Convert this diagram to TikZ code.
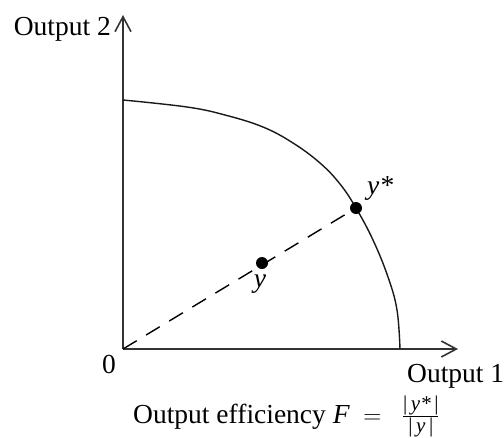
\documentclass[tikz,border=0pt]{standalone}
\usepackage{amsmath}
\usepackage{fontspec}
\setmainfont{Liberation Serif}
\usetikzlibrary{arrows.meta}
\newcommand{\fracsz}{\fontsize{21}{21}\selectfont}
\begin{document}
\begin{tikzpicture}[x=1pt,y=-1pt,
  lbl/.style={inner sep=0pt,font=\fontsize{27.5}{32}\selectfont},
  axis/.style={line width=1.8pt,draw=black!80,-{Straight Barb[length=15pt,width=16pt,line width=1.6pt]}},
  frontier/.style={line width=1.4pt,black!90},
  ray/.style={line width=1.4pt,dash pattern=on 16pt off 11pt},
  pt/.style={circle,fill=black,inner sep=0pt,minimum size=12pt}]
\useasboundingbox (0,0) rectangle (504,437);
\coordinate (O) at (123,349);
\coordinate (Ytop) at (123,15);
\coordinate (Xend) at (458,349);
\draw[axis] (O) -- (Ytop);
\draw[axis] (O) -- (Xend);
\draw[frontier] plot[smooth,tension=0.65] coordinates {(123,100) (187,107) (225,115) (263,127) (293,143) (320,163) (340,184) (356,208) (373,240) (388,277) (397,310) (400,349)};
\node[pt] (ystar) at (356,208) {};
\node[pt] (y) at (262,263) {};
\draw[ray] (O) -- (ystar);
\node[lbl,anchor=base east] (out2) at (111,35) {Output 2};
\node[lbl] (zero) at (109,364) {0};
\node[lbl,anchor=base west] (out1) at (407,382) {Output 1};
\node[lbl,anchor=base west] (ystarl) at (367,194) {\itshape y*};
\node[lbl] (yl) at (260,284) {\itshape y};
\node[lbl,anchor=base west] (eff) at (133,423) {Output efficiency $\text{\itshape F}\;=\;\;\frac{\text{\fracsz|\itshape\,y*\,\upshape|}}{\text{\fracsz|\itshape\,y\,\upshape|}}$};
\end{tikzpicture}
\end{document}
